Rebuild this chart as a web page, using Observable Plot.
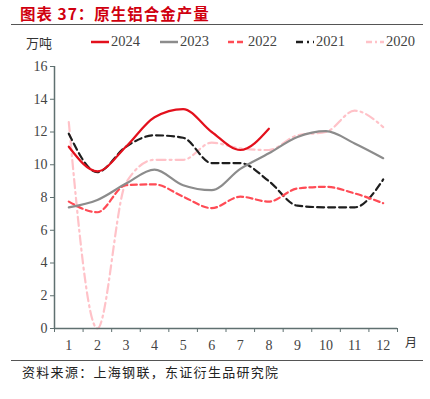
<!DOCTYPE html>
<html><head><meta charset="utf-8">
<script src="https://cdn.jsdelivr.net/npm/d3@7"></script>
<script src="https://cdn.jsdelivr.net/npm/@observablehq/plot@0.6"></script>
<style>
body{margin:0;background:#fff;}
#wrap{position:relative;width:430px;height:399px;overflow:hidden;background:#fff;font-family:"Liberation Serif",serif;}
#title{position:absolute;left:20px;top:2px;font-family:"Noto Sans CJK SC",sans-serif;font-weight:bold;font-size:15.5px;color:#d0000f;letter-spacing:1px;}
.hr{position:absolute;left:11px;width:412px;height:1px;background:#555;}
#unit{position:absolute;left:26px;top:33px;font-family:"Noto Sans CJK SC",sans-serif;font-size:13px;color:#333;}
.lg{position:absolute;top:33px;font-size:14.5px;color:#444;display:flex;align-items:center;}
.lg svg{margin-right:2px;}
#month{position:absolute;left:405px;top:333px;font-family:"Noto Sans CJK SC",sans-serif;font-size:12px;color:#333;}
#src{position:absolute;left:22px;top:362px;font-family:"Noto Sans CJK SC",sans-serif;font-size:13px;color:#222;letter-spacing:1.3px;}
#chart{position:absolute;left:0;top:50px;}
</style></head>
<body><div id="wrap">
<div id="title">图表 37：原生铝合金产量</div>
<div class="hr" style="top:24px"></div>
<div id="unit">万吨</div>
<div id="legend"></div>
<div id="chart"></div>
<div id="month">月</div>
<div class="hr" style="top:360px"></div>
<div id="src">资料来源：上海钢联，东证衍生品研究院</div>
</div>
<script>
const months = [1,2,3,4,5,6,7,8,9,10,11,12];
const yTicks = [0,2,4,6,8,10,12,14,16];
const s2024 = [11.1, 9.6, 11.1, 12.9, 13.4, 12.0, 10.9, 12.2];
const s2023 = [7.4, 7.85, 8.85, 9.7, 8.75, 8.45, 9.75, 10.7, 11.7, 12.05, 11.3, 10.4];
const s2022 = [7.75, 7.1, 8.75, 8.8, 8.05, 7.35, 8.05, 7.75, 8.55, 8.65, 8.25, 7.65];
const s2021 = [11.9, 9.55, 11.1, 11.8, 11.65, 10.1, 10.1, 9.0, 7.5, 7.4, 7.4, 9.1];
const s2020 = [12.6, 0.0, 8.9, 10.3, 10.3, 11.35, 11.0, 10.9, 11.8, 12.0, 13.3, 12.3];

const series = [
  {name:"2020", values:s2020, color:"#ffc2c8", dash:"9,4,2,4"},
  {name:"2021", values:s2021, color:"#1e1e1e", dash:"7,4"},
  {name:"2022", values:s2022, color:"#ff4b55", dash:"6,3.5"},
  {name:"2023", values:s2023, color:"#8c8c8c", dash:null},
  {name:"2024", values:s2024, color:"#e3101c", dash:null}
];

const axisColor = "#5f7070";
const marks = [];
for (const s of series) {
  const data = s.values.map((v,i)=>({m:months[i], v}));
  marks.push(Plot.line(data, {x:"m", y:"v", stroke:s.color, strokeWidth:2.2,
    strokeDasharray:s.dash || undefined, curve:"monotone-x"}));
}
const boundaries = d3.range(0.5, 12.6, 1);
marks.push(
  Plot.ruleX([0.5], {y1:0, y2:16, stroke:axisColor, strokeWidth:1.5}),
  Plot.ruleY([0], {x1:0.5, x2:12.5, stroke:axisColor, strokeWidth:1.5}),
  Plot.axisY({ticks:yTicks, tickSize:4, tickPadding:3, stroke:axisColor, fontSize:14, fill:"#444", label:null, fontFamily:"Liberation Serif"}),
  Plot.axisX({ticks:boundaries, tickSize:4, tickFormat:()=>"", stroke:axisColor, label:null}),
  Plot.axisX({ticks:months, tickSize:0, tickPadding:12, fontSize:14, fill:"#444", label:null, fontFamily:"Liberation Serif"})
);

const chart = Plot.plot({
  width:430, height:310,
  marginLeft:54, marginRight:33, marginTop:16, marginBottom:32,
  x:{type:"linear", domain:[0.5,12.5]},
  y:{domain:[0,16]},
  style:{background:"transparent", fontFamily:"Liberation Serif"},
  marks
});
document.getElementById("chart").appendChild(chart);

// legend
const legendOrder = ["2024","2023","2022","2021","2020"];
const lx = [91, 160, 228, 296, 366];
const lg = document.getElementById("legend");
legendOrder.forEach((n,i)=>{
  const s = series.find(d=>d.name===n);
  const div = document.createElement("div");
  div.className="lg"; div.style.left = lx[i]+"px";
  div.innerHTML = `<svg width="18" height="6"><line x1="0" x2="18" y1="3" y2="3" stroke="${s.color}" stroke-width="2.5" ${s.dash? `stroke-dasharray="${n==="2020"?"6,3,2,3":(n==="2021"?"7,4,2,4":"6,3")}"`:""}/></svg><span>${n}</span>`;
  lg.appendChild(div);
});
</script>
</body></html>
